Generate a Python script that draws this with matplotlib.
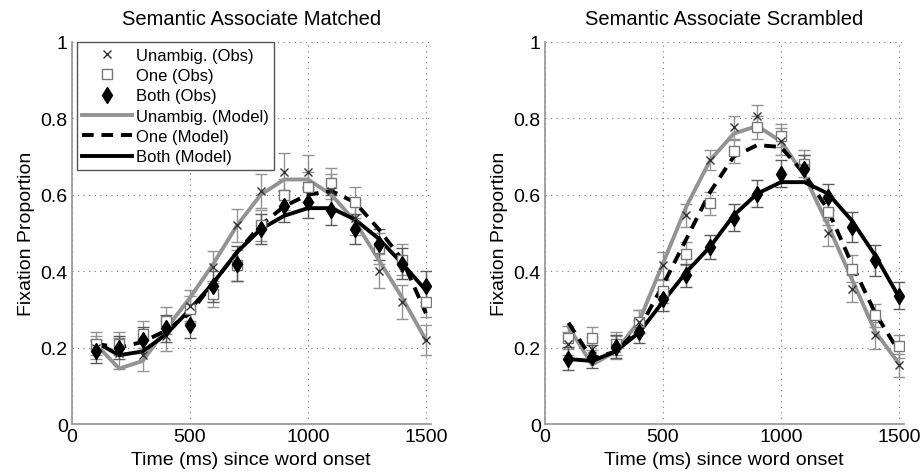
import numpy as np
import matplotlib
matplotlib.use('Agg')
import matplotlib.pyplot as plt

plt.rcParams['font.family'] = ['Liberation Sans', 'DejaVu Sans']

t = [100, 200, 300, 400, 500, 600, 700, 800, 900, 1000, 1100, 1200, 1300, 1400, 1500]

# Semantic Associate Matched
unamb_obs_L = [0.20, 0.185, 0.18, 0.23, 0.31, 0.41, 0.52, 0.61, 0.66, 0.66, 0.61, 0.54, 0.40, 0.32, 0.22]
one_obs_L = [0.21, 0.21, 0.235, 0.27, 0.30, 0.34, 0.415, 0.52, 0.60, 0.62, 0.63, 0.58, 0.46, 0.43, 0.32]
both_obs_L = [0.19, 0.20, 0.22, 0.25, 0.26, 0.36, 0.42, 0.51, 0.57, 0.58, 0.56, 0.51, 0.47, 0.42, 0.36]
unamb_err_L = [0.03, 0.04, 0.04, 0.04, 0.04, 0.042, 0.044, 0.044, 0.048, 0.045, 0.045, 0.045, 0.045, 0.045, 0.04]
one_err_L = [0.03, 0.03, 0.035, 0.035, 0.035, 0.035, 0.04, 0.04, 0.04, 0.04, 0.04, 0.04, 0.04, 0.04, 0.04]
both_err_L = [0.03, 0.03, 0.035, 0.035, 0.035, 0.04, 0.045, 0.04, 0.04, 0.04, 0.04, 0.04, 0.04, 0.04, 0.04]
unamb_mod_L = [0.21, 0.145, 0.165, 0.25, 0.33, 0.42, 0.52, 0.60, 0.64, 0.64, 0.60, 0.53, 0.43, 0.33, 0.22]
one_mod_L = [0.21, 0.20, 0.215, 0.245, 0.29, 0.37, 0.45, 0.52, 0.57, 0.60, 0.61, 0.58, 0.51, 0.43, 0.29]
both_mod_L = [0.215, 0.18, 0.19, 0.235, 0.30, 0.37, 0.45, 0.51, 0.545, 0.565, 0.565, 0.535, 0.485, 0.42, 0.35]

# Semantic Associate Scrambled
unamb_obs_R = [0.21, 0.197, 0.20, 0.268, 0.415, 0.546, 0.69, 0.777, 0.805, 0.74, 0.67, 0.50, 0.354, 0.232, 0.154]
one_obs_R = [0.226, 0.224, 0.21, 0.268, 0.347, 0.446, 0.578, 0.714, 0.777, 0.755, 0.681, 0.555, 0.407, 0.284, 0.203]
both_obs_R = [0.171, 0.176, 0.202, 0.242, 0.326, 0.389, 0.464, 0.54, 0.603, 0.655, 0.668, 0.594, 0.516, 0.428, 0.336]
unamb_err_R = [0.03, 0.03, 0.03, 0.03, 0.035, 0.03, 0.026, 0.03, 0.03, 0.035, 0.035, 0.035, 0.035, 0.035, 0.03]
one_err_R = [0.03, 0.03, 0.03, 0.03, 0.03, 0.03, 0.03, 0.03, 0.03, 0.03, 0.035, 0.035, 0.035, 0.03, 0.03]
both_err_R = [0.03, 0.03, 0.03, 0.03, 0.03, 0.03, 0.031, 0.036, 0.035, 0.035, 0.035, 0.035, 0.04, 0.04, 0.035]
unamb_mod_R = [0.255, 0.155, 0.19, 0.27, 0.42, 0.57, 0.69, 0.76, 0.78, 0.74, 0.65, 0.52, 0.38, 0.242, 0.158]
one_mod_R = [0.265, 0.17, 0.19, 0.25, 0.363, 0.485, 0.607, 0.70, 0.73, 0.725, 0.655, 0.56, 0.42, 0.29, 0.19]
both_mod_R = [0.17, 0.165, 0.19, 0.24, 0.32, 0.398, 0.464, 0.546, 0.603, 0.633, 0.633, 0.603, 0.533, 0.441, 0.333]

titles = ['Semantic Associate Matched', 'Semantic Associate Scrambled']
panels = [
    (unamb_obs_L, one_obs_L, both_obs_L, unamb_err_L, one_err_L, both_err_L,
     unamb_mod_L, one_mod_L, both_mod_L),
    (unamb_obs_R, one_obs_R, both_obs_R, unamb_err_R, one_err_R, both_err_R,
     unamb_mod_R, one_mod_R, both_mod_R),
]

gray = '#939393'
fig = plt.figure(figsize=(9.22, 4.77), dpi=100)
ax_left = [0.078, 0.591]

for k in range(2):
    uo, oo, bo, ue, oe, be, um, om, bm = panels[k]
    ax = fig.add_axes([ax_left[k], 0.109, 0.389, 0.801])
    ax.errorbar(t, uo, yerr=ue, fmt='none', ecolor=gray, elinewidth=1, capsize=4, zorder=1)
    ax.errorbar(t, oo, yerr=oe, fmt='none', ecolor=gray, elinewidth=1, capsize=4, zorder=1)
    ax.errorbar(t, bo, yerr=be, fmt='none', ecolor='#5a5a5a', elinewidth=1, capsize=4, zorder=1)
    h1, = ax.plot(t, uo, 'x', color='#333333', ms=6, mew=1, ls='none', zorder=4, label='Unambig. (Obs)')
    h2, = ax.plot(t, oo, 's', mfc='white', mec='#777777', ms=7, mew=1, ls='none', zorder=3, label='One (Obs)')
    h3, = ax.plot(t, bo, 'd', color='black', ms=8.5, ls='none', zorder=4, label='Both (Obs)')
    h4, = ax.plot(t, um, '-', color=gray, lw=2.8, zorder=2, label='Unambig. (Model)')
    h5, = ax.plot(t, om, '--', color='black', lw=2.8, dashes=(3, 2), zorder=2, label='One (Model)')
    h6, = ax.plot(t, bm, '-', color='black', lw=2.8, zorder=2, label='Both (Model)')

    ax.set_xlim(0, 1520)
    ax.set_ylim(0, 1)
    ax.set_xticks([0, 500, 1000, 1500])
    ax.set_yticks([0, 0.2, 0.4, 0.6, 0.8, 1])
    ax.set_yticklabels(['0', '0.2', '0.4', '0.6', '0.8', '1'])
    ax.tick_params(length=0, labelsize=14, pad=3)
    ax.grid(True, ls=(0, (1, 4)), color='#777777', lw=0.8)
    for s in ['top', 'right']:
        ax.spines[s].set_visible(False)
    for s in ['left', 'bottom']:
        ax.spines[s].set_color(gray)
        ax.spines[s].set_linewidth(1.2)
    ax.set_title(titles[k], fontsize=14.5, pad=13)
    ax.set_xlabel('Time (ms) since word onset', fontsize=14, labelpad=4)
    ax.set_ylabel('Fixation Proportion', fontsize=14, labelpad=4)

    if k == 0:
        leg = ax.legend(handles=[h1, h2, h3, h4, h5, h6], loc='upper left',
                        bbox_to_anchor=(0.013, 1.0), fontsize=12, frameon=True,
                        fancybox=False, edgecolor='#555555', framealpha=1,
                        handlelength=3.0, handletextpad=0.2, labelspacing=0.32,
                        borderpad=0.35, borderaxespad=0)
        leg.get_frame().set_linewidth(1)

fig.savefig('out.png', dpi=100)
